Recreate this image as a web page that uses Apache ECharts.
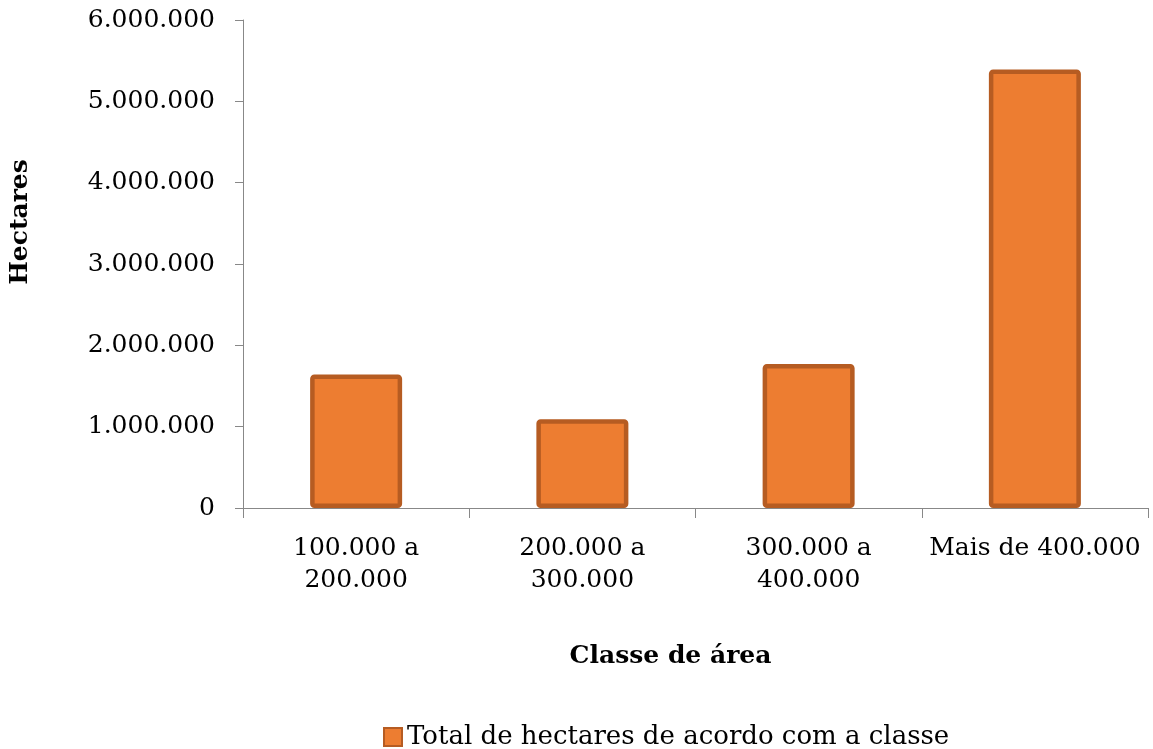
<!DOCTYPE html>
<html><head><meta charset="utf-8">
<script src="https://cdn.jsdelivr.net/npm/echarts@6/dist/echarts.min.js"></script>
<style>html,body{margin:0;padding:0;background:#fff}#c{width:1153px;height:749px}</style>
</head><body><div id="c"></div>
<script>
const categories = ['100.000 a\n200.000', '200.000 a\n300.000', '300.000 a\n400.000', 'Mais de 400.000'];
const values = [1640000, 1090000, 1770000, 5390000];
const seriesName = 'Total de hectares de acordo com a classe';
const yTicks = { min: 0, max: 6000000, interval: 1000000 };

const FONT = '"DejaVu Serif", serif';
const chart = echarts.init(document.getElementById('c'), null, { renderer: 'canvas' });
chart.setOption({
  animation: false,
  grid: { left: 242, right: 5, top: 20, bottom: 241 },
  legend: {
    bottom: -6, left: 378,
    icon: 'rect', itemWidth: 18, itemHeight: 18, itemGap: 6,
    textStyle: { fontFamily: FONT, fontSize: 26, color: '#000' },
    data: [seriesName]
  },
  xAxis: {
    type: 'category', data: categories,
    name: 'Classe de área', nameLocation: 'middle', nameGap: 136,
    nameTextStyle: { fontFamily: FONT, fontSize: 25, fontWeight: 'bold', color: '#000', padding: [0, 50, 0, 0] },
    axisLine: { lineStyle: { color: '#888', width: 1 } },
    axisTick: { show: true, length: 10, lineStyle: { color: '#888' } },
    axisLabel: { fontFamily: FONT, fontSize: 25, color: '#000', margin: 24, lineHeight: 32, interval: 0 }
  },
  yAxis: {
    type: 'value', min: yTicks.min, max: yTicks.max, interval: yTicks.interval,
    name: 'Hectares', nameLocation: 'middle', nameGap: 210, nameRotate: 90,
    nameTextStyle: { fontFamily: FONT, fontSize: 25, fontWeight: 'bold', color: '#000', padding: [0, 0, 0, 84] },
    axisLine: { show: true, lineStyle: { color: '#888', width: 1 } },
    axisTick: { show: true, length: 8, lineStyle: { color: '#888' } },
    splitLine: { show: false },
    axisLabel: {
      fontFamily: FONT, fontSize: 25, color: '#000', margin: 28,
      formatter: v => v.toLocaleString('de-DE')
    }
  },
  series: [{
    name: seriesName, type: 'bar', data: values, barWidth: 92,
    itemStyle: { color: '#ED7D31', borderColor: '#B65C22', borderWidth: 4.5, borderRadius: 2 }
  }]
});
</script></body></html>
